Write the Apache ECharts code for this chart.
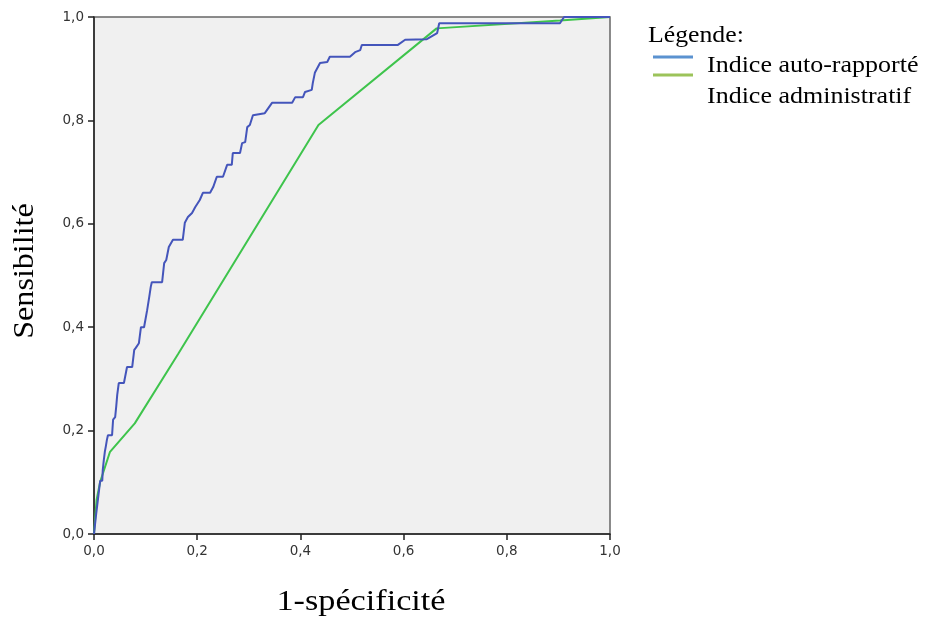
<!DOCTYPE html>
<html>
<head>
<meta charset="utf-8">
<script src="https://cdn.jsdelivr.net/npm/echarts@6/dist/echarts.min.js"></script>
<style>
  html, body { margin: 0; padding: 0; background: #fff; }
  #roc { width: 925px; height: 621px; }
</style>
</head>
<body>
<div id="roc"></div>
<script>
// courbes ROC : indice auto-rapporté vs indice administratif

var seriesNames = ['Indice auto-rapporté', 'Indice administratif'];
var xTitle = '1-spécificité';
var yTitle = 'Sensibilité';

// [1-spécificité, sensibilité]
var autoRapporte = [
    [0,0],[0.004,0.037],[0.008,0.070],[0.012,0.103],[0.016,0.103],[0.017,0.124],
    [0.019,0.143],[0.021,0.159],[0.023,0.170],[0.025,0.182],[0.027,0.191],[0.035,0.191],
    [0.037,0.221],[0.041,0.226],[0.043,0.246],[0.045,0.269],[0.048,0.292],[0.058,0.292],
    [0.064,0.323],[0.074,0.323],[0.078,0.356],[0.081,0.360],[0.087,0.369],[0.091,0.400],
    [0.097,0.400],[0.103,0.433],[0.107,0.458],[0.110,0.478],[0.112,0.487],[0.132,0.487],
    [0.136,0.524],[0.140,0.530],[0.145,0.555],[0.153,0.569],[0.172,0.569],[0.176,0.602],
    [0.182,0.613],[0.190,0.621],[0.196,0.632],[0.205,0.646],[0.211,0.660],[0.225,0.660],
    [0.231,0.671],[0.238,0.691],[0.250,0.691],[0.258,0.714],[0.267,0.714],[0.269,0.737],
    [0.283,0.737],[0.287,0.756],[0.293,0.758],[0.297,0.787],[0.302,0.791],[0.308,0.810],
    [0.331,0.814],[0.345,0.834],[0.384,0.834],[0.390,0.845],[0.405,0.845],[0.409,0.855],
    [0.422,0.859],[0.424,0.872],[0.428,0.892],[0.438,0.911],[0.452,0.913],[0.457,0.923],
    [0.496,0.923],[0.506,0.932],[0.516,0.936],[0.519,0.946],[0.589,0.946],[0.603,0.956],
    [0.645,0.957],[0.655,0.963],[0.665,0.969],[0.669,0.988],[0.903,0.988],[0.911,1],
    [1,1]
];

var administratif = [
    [0,0],[0.005,0.066],[0.012,0.101],[0.031,0.159],[0.079,0.214],[0.163,0.348],
    [0.435,0.791],[0.664,0.978],[0.903,0.993],[1,1]
];

function fmt(v) {
    return v.toFixed(1).replace('.', ',');
}

var axisCommon = {
    type: 'value',
    min: 0,
    max: 1,
    interval: 0.2,
    axisLine: {show: true, lineStyle: {color: '#222', width: 1.5}},
    axisTick: {show: true, length: 6, lineStyle: {color: '#222', width: 1.5}},
    axisLabel: {
        fontFamily: 'DejaVu Sans',
        fontSize: 13.5,
        color: '#333',
        margin: 10,
        formatter: fmt
    },
    splitLine: {show: false}
};

var serif = '"Liberation Serif", "Times New Roman", serif';

var roc = echarts.init(document.getElementById('roc'));
roc.setOption({
    animation: false,
    grid: {
        left: 94,
        right: 315,
        top: 17,
        bottom: 87,
        outerBoundsMode: 'none',
        containLabel: false,
        show: true,
        backgroundColor: '#f0f0f0',
        borderColor: '#666',
        borderWidth: 1.5
    },
    xAxis: Object.assign({}, axisCommon),
    yAxis: Object.assign({}, axisCommon),
    series: [
        {
            name: seriesNames[0],
            type: 'line',
            data: autoRapporte,
            showSymbol: false,
            lineStyle: {color: '#4455bb', width: 2},
            z: 3
        },
        {
            name: seriesNames[1],
            type: 'line',
            data: administratif,
            showSymbol: false,
            lineStyle: {color: '#3ec44c', width: 2},
            z: 2
        }
    ],
    graphic: [
        // titres des axes
        {
            type: 'text', x: 361, y: 602, scaleX: 1.14,
            style: {text: xTitle, font: '30px ' + serif, fill: '#000',
                    align: 'center', verticalAlign: 'middle'}
        },
        {
            type: 'text', x: 25, y: 271, rotation: Math.PI / 2, scaleX: 1.07,
            style: {text: yTitle, font: '30px ' + serif, fill: '#000',
                    align: 'center', verticalAlign: 'middle'}
        },
        // légende
        {
            type: 'text', x: 648, y: 36, scaleX: 1.12,
            style: {text: 'Légende:', font: '23px ' + serif, fill: '#000',
                    align: 'left', verticalAlign: 'middle'}
        },
        {
            type: 'line',
            shape: {x1: 653, y1: 57, x2: 693, y2: 57},
            style: {stroke: '#5b92d0', lineWidth: 3}
        },
        {
            type: 'line',
            shape: {x1: 653, y1: 75, x2: 693, y2: 75},
            style: {stroke: '#9cc35a', lineWidth: 3}
        },
        {
            type: 'text', x: 707, y: 66, scaleX: 1.13,
            style: {text: seriesNames[0], font: '23px ' + serif, fill: '#000',
                    align: 'left', verticalAlign: 'middle'}
        },
        {
            type: 'text', x: 707, y: 97, scaleX: 1.13,
            style: {text: seriesNames[1], font: '23px ' + serif, fill: '#000',
                    align: 'left', verticalAlign: 'middle'}
        }
    ]
});
</script>
</body>
</html>
